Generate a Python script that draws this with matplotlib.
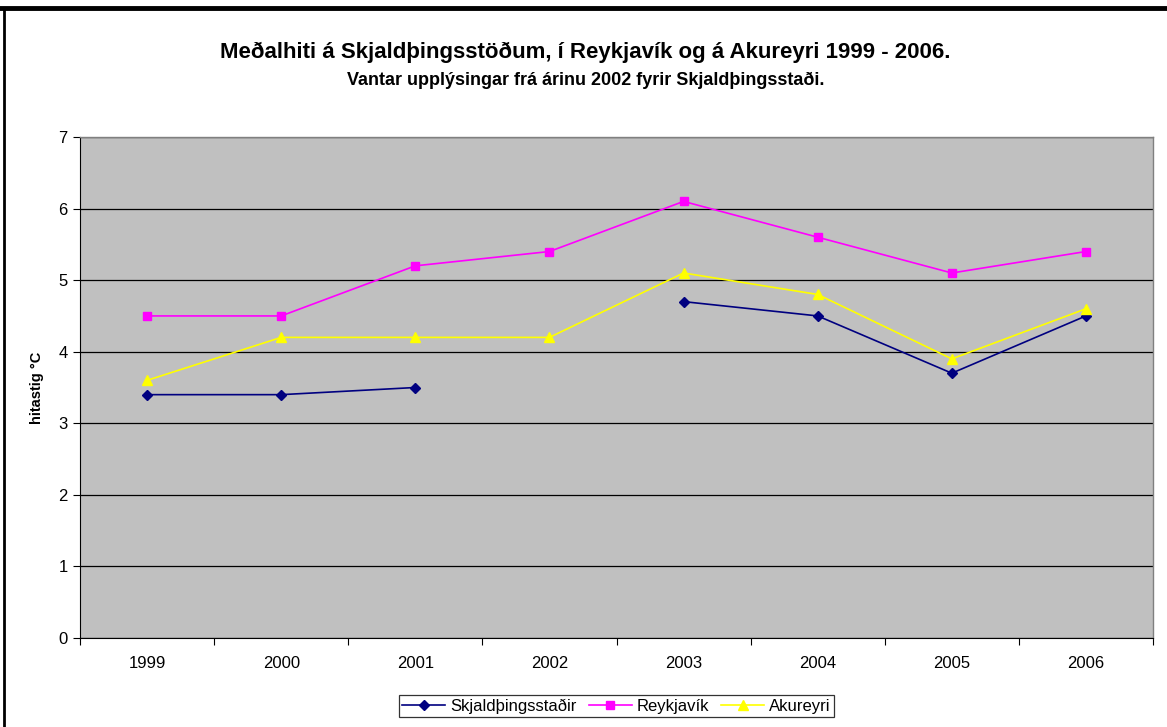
import numpy as np
import matplotlib.pyplot as plt
from matplotlib.lines import Line2D

plt.rcParams['font.family'] = ['Liberation Sans', 'DejaVu Sans']

years = ['1999', '2000', '2001', '2002', '2003', '2004', '2005', '2006']
skjald = [3.4, 3.4, 3.5, np.nan, 4.7, 4.5, 3.7, 4.5]
reykjavik = [4.5, 4.5, 5.2, 5.4, 6.1, 5.6, 5.1, 5.4]
akureyri = [3.6, 4.2, 4.2, 4.2, 5.1, 4.8, 3.9, 4.6]

W, H = 1167, 727
fig = plt.figure(figsize=(W / 100, H / 100), dpi=100)
fig.patch.set_facecolor('white')
ax = fig.add_axes([80 / W, 1 - 638 / H, (1153 - 80) / W, (638 - 137) / H])
ax.set_facecolor('#C0C0C0')

x = np.arange(len(years))
ax.plot(x, skjald, color='#000080', marker='D', ms=5, lw=1.2, label='Skjaldþingsstaðir')
ax.plot(x, reykjavik, color='#FF00FF', marker='s', ms=5.5, lw=1.2, label='Reykjavík')
ax.plot(x, akureyri, color='#FFFF00', marker='^', ms=6.5, lw=1.2, label='Akureyri')

ax.set_xlim(-0.5, len(years) - 0.5)
ax.set_ylim(0, 7)
ax.set_yticks(range(0, 8))
ax.yaxis.grid(True, color='black', lw=0.9)
ax.set_axisbelow(True)

# Excel-stíll: merki á milli flokka, merkingar í miðjunni
ax.set_xticks(np.arange(-0.5, len(years), 1.0))
ax.set_xticklabels([])
ax.set_xticks(x, minor=True)
ax.set_xticklabels(years, minor=True)
ax.tick_params(axis='x', which='minor', length=0, pad=13, labelsize=12)
ax.tick_params(axis='x', which='major', length=5, direction='out', color='black')
ax.tick_params(axis='y', length=5, direction='out', labelsize=12, pad=4)

for s in ['top', 'right']:
    ax.spines[s].set_color('#808080')
    ax.spines[s].set_linewidth(1.0)
ax.spines['left'].set_color('black')
ax.spines['bottom'].set_color('black')

ax.set_ylabel('hitastig °C', fontsize=10.5, fontweight='bold', labelpad=10)

fig.text(0.5015, 1 - 52 / H, 'Meðalhiti á Skjaldþingsstöðum, í Reykjavík og á Akureyri 1999 - 2006.',
         ha='center', va='center', fontsize=16, fontweight='bold')
fig.text(0.5015, 1 - 80 / H, 'Vantar upplýsingar frá árinu 2002 fyrir Skjaldþingsstaði.',
         ha='center', va='center', fontsize=13, fontweight='bold')

leg = ax.legend(loc='center', bbox_to_anchor=(0.5, -0.136), ncol=3, frameon=True,
                fancybox=False, edgecolor='black', fontsize=12, handlelength=2.6,
                handletextpad=0.3, columnspacing=0.7, borderpad=0.2)
leg.get_frame().set_linewidth(0.9)

# ramminn utan um myndina
fig.add_artist(Line2D([0, 1], [1 - 8 / H, 1 - 8 / H], color='black', lw=3.5))
fig.add_artist(Line2D([4 / W, 4 / W], [0, 1 - 8 / H], color='black', lw=2))

fig.savefig('out.png', dpi=100)
